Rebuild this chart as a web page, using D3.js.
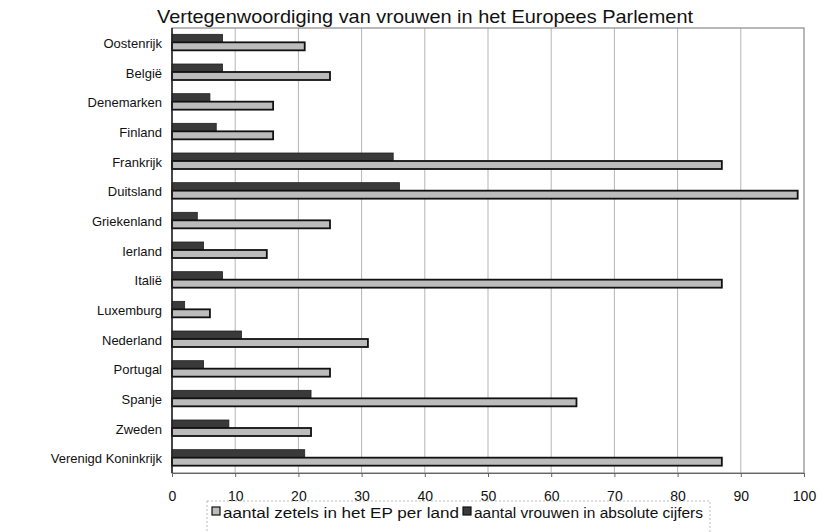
<!DOCTYPE html>
<html><head><meta charset="utf-8">
<script src="https://cdn.jsdelivr.net/npm/d3@7"></script>
<style>body{margin:0;background:#fff}svg{display:block;font-family:"Liberation Sans",Arial,sans-serif}</style>
</head><body><svg id="c" width="831" height="532"></svg>
<script>
const categories = ["Oostenrijk","België","Denemarken","Finland","Frankrijk","Duitsland","Griekenland","Ierland","Italië","Luxemburg","Nederland","Portugal","Spanje","Zweden","Verenigd Koninkrijk"];
const seats = [21,25,16,16,87,99,25,15,87,6,31,25,64,22,87];
const women = [8,8,6,7,35,36,4,5,8,2,11,5,22,9,21];
const xTicks = [0,10,20,30,40,50,60,70,80,90,100];
const seriesNames = ["aantal zetels in het EP per land","aantal vrouwen in absolute cijfers"];

const svg = d3.select("#c");
const m = {l:172, r:27, t:28, b:59};
const W = 831, H = 532;
const x = d3.scaleLinear().domain([0,100]).range([m.l, W-m.r]);
const y = d3.scaleBand().domain(categories).range([m.t, H-m.b]);
const bh = 8;

svg.append("text").attr("x", 157).attr("y", 23)
  .attr("font-size", 19).attr("fill","#111")
  .attr("textLength", 536).attr("lengthAdjust","spacingAndGlyphs")
  .text("Vertegenwoordiging van vrouwen in het Europees Parlement");

// gridlines
svg.append("g").selectAll("line").data(xTicks.slice(1,-1)).join("line")
  .attr("x1", d=>x(d)).attr("x2", d=>x(d)).attr("y1", m.t).attr("y2", H-m.b)
  .attr("stroke","#b5b5b5").attr("stroke-width",1);

// frame
svg.append("rect").attr("x", m.l).attr("y", m.t).attr("width", x(100)-m.l).attr("height", H-m.b-m.t)
  .attr("fill","none").attr("stroke","#8a8a8a").attr("stroke-width",1.2);

const g = svg.append("g");
// women bars (dark)
g.selectAll(".w").data(categories).join("rect")
  .attr("x", x(0)).attr("y", (d)=>y(d)+y.bandwidth()/2 - bh - 0.5)
  .attr("width", (d,i)=>x(women[i])-x(0)).attr("height", bh)
  .attr("fill","#3a3a3a").attr("stroke","#222").attr("stroke-width",0.8);
// seats bars (light)
g.selectAll(".s").data(categories).join("rect")
  .attr("x", x(0)).attr("y", (d)=>y(d)+y.bandwidth()/2 - 0.5)
  .attr("width", (d,i)=>x(seats[i])-x(0)).attr("height", bh)
  .attr("fill","#bcbcbc").attr("stroke","#111").attr("stroke-width",1.8);

// left axis
svg.append("line").attr("x1", m.l).attr("x2", m.l).attr("y1", m.t).attr("y2", H-m.b).attr("stroke","#222").attr("stroke-width",1.5);
svg.append("g").selectAll("text").data(categories).join("text")
  .attr("x", 162).attr("y", d=>y(d)+y.bandwidth()/2+5).attr("text-anchor","end")
  .attr("font-size", 13).attr("fill","#111").text(d=>d);

// bottom axis
const xa = svg.append("g").attr("transform", `translate(0,${H-m.b})`)
  .call(d3.axisBottom(x).tickValues(xTicks).tickSize(4).tickPadding(14));
xa.select(".domain").attr("stroke","#666");
xa.selectAll("line").attr("stroke","#666");
xa.selectAll("text").attr("font-size", 14).attr("fill","#111").attr("font-family","Liberation Sans, Arial, sans-serif");

// legend
const lg = svg.append("g");
lg.append("rect").attr("x", 207).attr("y", 501).attr("width", 503).attr("height", 34)
  .attr("fill","none").attr("stroke","#bbb").attr("stroke-dasharray","2,2");
const items = [{x:212, fill:"#bcbcbc", text:seriesNames[0], len:236},{x:463, fill:"#3a3a3a", text:seriesNames[1], len:229}];
items.forEach(it=>{
  lg.append("rect").attr("x", it.x).attr("y", 507).attr("width", 8).attr("height", 8)
    .attr("fill", it.fill).attr("stroke","#111").attr("stroke-width",1.2);
  lg.append("text").attr("x", it.x+11).attr("y", 518).attr("font-size", 15.5).attr("fill","#111")
    .attr("textLength", it.len).attr("lengthAdjust","spacingAndGlyphs").text(it.text);
});
</script></body></html>
